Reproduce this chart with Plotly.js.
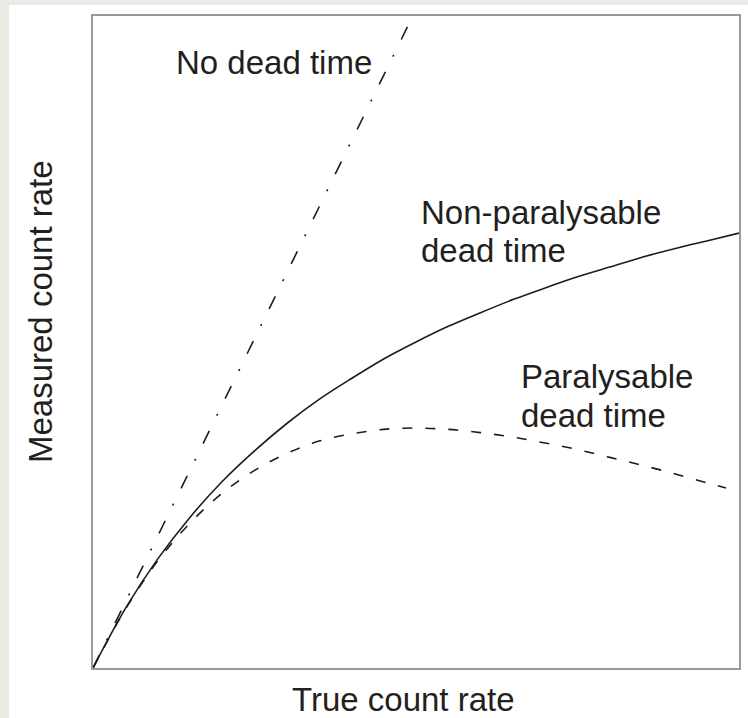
<!DOCTYPE html>
<html>
<head>
<meta charset="utf-8">
<script src="https://cdn.plot.ly/plotly-3.0.1.min.js"></script>
<style>
  html, body { margin: 0; padding: 0; background: #ECEAE5; width: 748px; height: 718px; overflow: hidden; }
  #chart { position: absolute; left: 9px; top: 5px; width: 739px; height: 713px; background: #ffffff; }
</style>
</head>
<body>
<div id="chart"></div>
<script>
// True count rate (relative units, 0..1 across the plot)
const trueRate = [0, 0.05, 0.1, 0.15, 0.2, 0.25, 0.3, 0.35, 0.4, 0.45, 0.5, 0.55, 0.6, 0.65, 0.7, 0.75, 0.8, 0.85, 0.9, 0.95, 1.0];
// No dead time (straight line)
const noDeadX = [0, 0.495];
const noDeadY = [0, 1.0];
// Non-paralysable dead time (measured rate)
const nonParalysable = [0, 0.091, 0.167, 0.231, 0.286, 0.333, 0.375, 0.412, 0.444, 0.474, 0.5, 0.524, 0.545, 0.565, 0.583, 0.6, 0.615, 0.63, 0.643, 0.655, 0.667];
// Paralysable dead time (measured rate)
const paraX = [0, 0.05, 0.1, 0.15, 0.2, 0.25, 0.3, 0.35, 0.4, 0.45, 0.5, 0.55, 0.6, 0.65, 0.7, 0.75, 0.8, 0.85, 0.9, 0.95, 0.98];
const paralysable = [0, 0.09, 0.164, 0.222, 0.268, 0.303, 0.329, 0.348, 0.359, 0.366, 0.368, 0.366, 0.361, 0.354, 0.345, 0.335, 0.323, 0.311, 0.298, 0.284, 0.276];

const labels = {
  noDead: "No dead time",
  nonPara1: "Non-paralysable",
  nonPara2: "dead time",
  para1: "Paralysable",
  para2: "dead time",
  xTitle: "True count rate",
  yTitle: "Measured count rate"
};

const lineColor = "#1c1c1c";
const textColor = "#231f20";
const fontFamily = "Liberation Sans, Arial, Helvetica, sans-serif";
const fs = 33;

const traces = [
  { x: noDeadX, y: noDeadY, mode: "lines", name: labels.noDead,
    line: { color: lineColor, width: 1.6, dash: "14px,17px,2px,17px" } },
  { x: trueRate, y: nonParalysable, mode: "lines", name: labels.nonPara1,
    line: { color: lineColor, width: 1.6, shape: "spline" } },
  { x: paraX, y: paralysable, mode: "lines", name: labels.para1,
    line: { color: lineColor, width: 1.6, dash: "10px,13px", shape: "spline" } }
];

function ann(text, x, y, extra) {
  return Object.assign({ text: text, xref: "paper", yref: "paper", x: x, y: y,
    xanchor: "left", yanchor: "middle", showarrow: false,
    font: { family: fontFamily, size: fs, color: textColor } }, extra || {});
}

const layout = {
  width: 739, height: 713,
  margin: { l: 84, r: 9, t: 11, b: 50 },
  paper_bgcolor: "#ffffff",
  plot_bgcolor: "#ffffff",
  showlegend: false,
  font: { family: fontFamily, color: textColor },
  xaxis: {
    range: [0, 1], showgrid: false, zeroline: false, showticklabels: false, ticks: "",
    showline: true, mirror: true, linecolor: "#9a9a9a", linewidth: 2
  },
  yaxis: {
    range: [0, 1], showgrid: false, zeroline: false, showticklabels: false, ticks: "",
    showline: true, mirror: true, linecolor: "#9a9a9a", linewidth: 2
  },
  annotations: [
    ann(labels.noDead, 0.126, 0.928),
    ann(labels.nonPara1, 0.504, 0.698),
    ann(labels.nonPara2, 0.504, 0.640),
    ann(labels.para1, 0.660, 0.447),
    ann(labels.para2, 0.660, 0.388),
    ann(labels.xTitle, 0.481, -0.049, { xanchor: "center", borderpad: 0 }),
    ann(labels.yTitle, -0.082, 0.546, { xanchor: "center", textangle: -90 })
  ]
};

Plotly.newPlot("chart", traces, layout, { displayModeBar: false, staticPlot: true });
</script>
</body>
</html>
